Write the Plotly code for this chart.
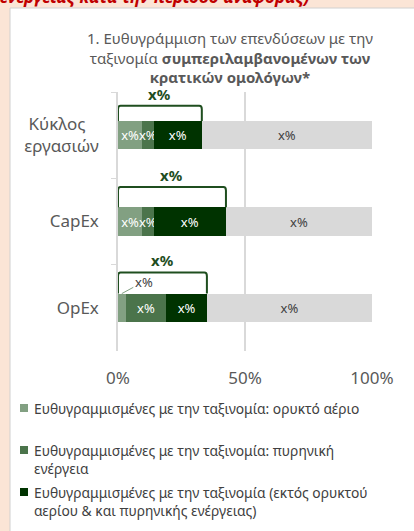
import plotly.graph_objects as go

# data (percent of total)
categories = ["Κύκλος\u00a0\u00a0\u00a0<br>εργασιών", "CapEx", "OpEx"]
gas = [9.5, 9.5, 3.0]
nuclear = [4.5, 4.5, 16.0]
other = [19.0, 28.5, 16.0]
not_aligned = [67.0, 57.5, 65.0]
seg_label = "x%"
total_label = "x%"
x_ticks = [0, 50, 100]
x_ticktext = ["0%", "50%", "100%"]
legend_names = [
    "Ευθυγραμμισμένες με την ταξινομία: ορυκτό αέριο",
    "Ευθυγραμμισμένες με την ταξινομία: πυρηνική<br>ενέργεια",
    "Ευθυγραμμισμένες με την ταξινομία (εκτός ορυκτού<br>αερίου & και πυρηνικής ενέργειας)",
]

FONT = "Noto Sans"
colors = ["#82A082", "#4B744B", "#003300", "#D9D9D9"]
BAR_W = 0.33
bracket_top = [-0.34, -0.40, -0.41]  # offset above each bar centre

W, H = 414, 531
L, R, T, B = 118, 42, 92, 180
PW, PH = W - L - R, H - T - B


def px_x(p):
    return (p - L) / PW


def px_y(p):
    return (H - B - p) / PH


fig = go.Figure()

series = [gas, nuclear, other, not_aligned]
for i, vals in enumerate(series):
    texts = [seg_label] * len(vals)
    if i == 0:
        texts[2] = ""  # too narrow, labelled outside
    fig.add_trace(
        go.Bar(
            y=categories,
            x=vals,
            orientation="h",
            width=BAR_W,
            marker={"color": colors[i], "line": {"width": 0}},
            text=texts,
            textposition="inside",
            insidetextanchor="middle",
            textangle=0,
            textfont={"color": "#404040" if i == 3 else "white", "size": 13, "family": FONT},
            hoverinfo="skip",
            showlegend=False,
        )
    )

# brackets over the aligned part of each bar
for k, cat in enumerate(categories):
    tot = gas[k] + nuclear[k] + other[k]
    y0 = k - BAR_W / 2
    yt = k + bracket_top[k]
    rx, ry = 1.0, 0.04
    path = (
        f"M 0,{y0} L 0,{yt + ry} Q 0,{yt} {rx},{yt} "
        f"L {tot - rx},{yt} Q {tot},{yt} {tot},{yt + ry} L {tot},{y0}"
    )
    fig.add_shape(
        type="path", path=path, xref="x", yref="y",
        line={"color": "#1F4E1F", "width": 2},
    )
    fig.add_annotation(
        x=tot / 2, y=yt, xref="x", yref="y", text=f"<b>{total_label}</b>",
        showarrow=False, yanchor="bottom", yshift=0,
        font={"size": 15, "color": "#1F4E1F", "family": FONT},
    )

# outside label for the narrow OpEx gas segment
fig.add_annotation(
    x=gas[2] / 2, y=2 - BAR_W / 2, xref="x", yref="y", text=seg_label,
    showarrow=True, arrowhead=0, arrowwidth=1, arrowcolor="#82A082",
    ax=22, ay=-12, font={"size": 13, "color": "#404040", "family": FONT},
)

# white panel on peach background
fig.add_shape(
    type="rect", xref="paper", yref="paper", layer="below",
    x0=px_x(10), x1=px_x(420), y0=px_y(540), y1=px_y(8),
    fillcolor="white", line={"color": "#D0D0D0", "width": 1},
)

# clipped heading from the page above
fig.add_annotation(
    x=px_x(-2), y=px_y(10), xref="paper", yref="paper", xanchor="left", yanchor="bottom",
    text="<b><i>ενέργειας κατά την περίοδο αναφοράς)</i></b>", showarrow=False,
    font={"size": 17, "color": "#C00000", "family": FONT},
)

# legend drawn by hand
legend_y = [408, 450, 492]
for name, col, yy in zip(legend_names, colors[:3], legend_y):
    fig.add_shape(
        type="rect", xref="paper", yref="paper",
        x0=px_x(20), x1=px_x(28), y0=px_y(yy + 4), y1=px_y(yy - 4),
        fillcolor=col, line={"width": 0},
    )
    fig.add_annotation(
        x=px_x(32), y=px_y(yy - 11), xref="paper", yref="paper",
        xanchor="left", yanchor="top", align="left", text=name, showarrow=False,
        font={"size": 13.8, "color": "#404040", "family": FONT},
    )

fig.update_layout(
    width=W, height=H,
    margin={"l": L, "r": R, "t": T, "b": B},
    barmode="stack",
    paper_bgcolor="#FBE5D6",
    plot_bgcolor="white",
    font={"family": FONT, "color": "#595959"},
    uniformtext={"mode": "show", "minsize": 13},
    title={
        "text": "1. Ευθυγράμμιση των επενδύσεων με την<br>ταξινομία <b>συμπεριλαμβανομένων των</b><br><b>κρατικών ομολόγων*</b>",
        "x": 230 / W, "xanchor": "center", "y": 1 - 44 / H, "yanchor": "top",
        "font": {"size": 15, "color": "#595959", "family": FONT},
    },
)
fig.update_xaxes(
    range=[0, 100], tickvals=x_ticks, ticktext=x_ticktext,
    showgrid=True, gridcolor="#D9D9D9", gridwidth=1.5, zeroline=False,
    showline=False, ticks="", ticklabelstandoff=15,
    tickfont={"size": 17, "color": "#595959", "family": FONT},
)
fig.update_yaxes(
    type="category", autorange="reversed",
    showline=True, linecolor="#D9D9D9", linewidth=1.5,
    ticks="outside", tickson="boundaries", ticklen=5, tickcolor="#D9D9D9",
    showgrid=False, ticklabelstandoff=14,
    tickfont={"size": 17, "color": "#595959", "family": FONT},
)

fig.write_html(
    "out.html",
    config={"displayModeBar": False},
    post_script="document.body.style.margin='0';",
)
